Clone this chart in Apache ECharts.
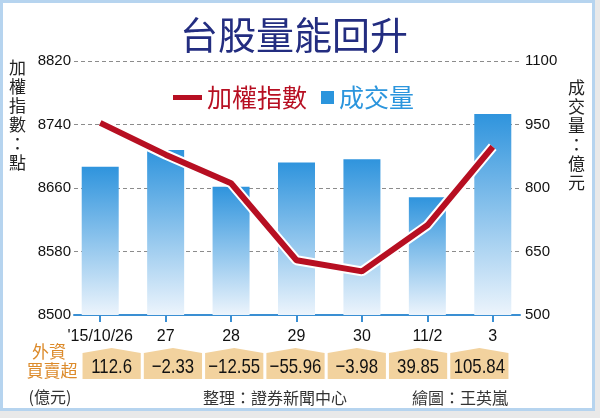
<!DOCTYPE html>
<html>
<head>
<meta charset="utf-8">
<script src="https://cdn.jsdelivr.net/npm/echarts@6/dist/echarts.min.js"></script>
<style>
html,body{margin:0;padding:0;background:#e9e9e9;width:600px;height:418px;overflow:hidden;}
#frame{position:absolute;left:0;top:0;width:589px;height:405px;border:3px solid #b6d4ef;background:#fff;}
#chart{position:absolute;left:0;top:0;width:600px;height:418px;}
</style>
</head>
<body>
<div id="frame"></div>
<div id="chart"></div>
<script>
const categories = ["'15/10/26", "27", "28", "29", "30", "11/2", "3"];
const taiex = [8742, 8702, 8666, 8569, 8555, 8613, 8712];
const volume = [850, 890, 803, 860, 868, 778, 975];
const foreignNet = [112.6, -2.33, -12.55, -55.96, -3.98, 39.85, 105.84];
const leftTicks = { min: 8500, max: 8820, interval: 80 };
const rightTicks = { min: 500, max: 1100, interval: 150 };

const NUM_FONT = '"Liberation Sans", Arial, sans-serif';
const CJK_FONT = '"Noto Sans CJK TC", "Noto Sans CJK SC", sans-serif';
const RED = '#b70f22';
const BLUE = '#2b95dd';
const AXIS_BLUE = '#3a8fd3';

function fmt(v) {
  return String(v).replace('-', '\u2212');
}

const chart = echarts.init(document.getElementById('chart'), null, { renderer: 'canvas' });

const option = {
  backgroundColor: 'transparent',
  animation: false,
  legend: [
    {
      data: ['加權指數'], left: 168, top: 80, icon: 'rect', itemWidth: 29, itemHeight: 5,
      textStyle: { fontFamily: CJK_FONT, fontSize: 25, color: RED }
    },
    {
      data: [{ name: '成交量', itemStyle: { color: BLUE } }], left: 316, top: 80, icon: 'rect', itemWidth: 13, itemHeight: 13,
      textStyle: { fontFamily: CJK_FONT, fontSize: 25, color: BLUE }
    }
  ],
  grid: [
    { left: 74, width: 446, top: 61, height: 254 },
    { left: 67.5, width: 458, top: 61, height: 254 },
    { left: 81, width: 429, top: 348, height: 31 }
  ],
  xAxis: [
    {
      gridIndex: 0, type: 'category', data: categories,
      axisLine: { show: true, lineStyle: { color: AXIS_BLUE, width: 2 } },
      axisTick: { show: false }, axisLabel: { show: false }, splitLine: { show: false }
    },
    {
      gridIndex: 1, type: 'category', data: categories,
      axisLine: { show: false },
      axisTick: { show: true, alignWithLabel: true, interval: 0, length: 7, lineStyle: { color: AXIS_BLUE, width: 2 } },
      axisLabel: { interval: 0, margin: 14, fontFamily: NUM_FONT, fontSize: 16, color: '#111' }
    },
    { gridIndex: 2, type: 'category', data: categories, show: false }
  ],
  yAxis: [
    {
      gridIndex: 0, type: 'value', position: 'left',
      min: leftTicks.min, max: leftTicks.max, interval: leftTicks.interval,
      axisLine: { show: false }, axisTick: { show: false },
      axisLabel: { margin: 3, fontFamily: NUM_FONT, fontSize: 15, color: '#111', formatter: v => String(v) },
      splitLine: { show: true, lineStyle: { color: '#8c8c8c', type: [4, 3], width: 1 } }
    },
    {
      gridIndex: 0, type: 'value', position: 'right',
      min: rightTicks.min, max: rightTicks.max, interval: rightTicks.interval,
      axisLine: { show: false }, axisTick: { show: false },
      axisLabel: { margin: 5, fontFamily: NUM_FONT, fontSize: 15, color: '#111', formatter: v => String(v) },
      splitLine: { show: false }
    },
    { gridIndex: 1, type: 'value', min: leftTicks.min, max: leftTicks.max, show: false },
    { gridIndex: 1, type: 'value', min: rightTicks.min, max: rightTicks.max, show: false },
    { gridIndex: 2, type: 'value', min: 0, max: 1, show: false }
  ],
  series: [
    {
      name: '成交量', type: 'bar', xAxisIndex: 1, yAxisIndex: 3, data: volume, barWidth: 37,
      itemStyle: {
        color: new echarts.graphic.LinearGradient(0, 0, 0, 1, [
          { offset: 0, color: '#2f94dd' },
          { offset: 1, color: '#ecf4fc' }
        ])
      }
    },
    {
      name: 'outline', type: 'line', xAxisIndex: 1, yAxisIndex: 2, data: taiex,
      symbol: 'none', lineStyle: { color: '#ffffff', width: 10 }, silent: true
    },
    {
      name: '加權指數', type: 'line', xAxisIndex: 1, yAxisIndex: 2, data: taiex,
      symbol: 'none', lineStyle: { color: RED, width: 6 }, itemStyle: { color: RED }
    },
    {
      name: '外資買賣超', type: 'custom', xAxisIndex: 2, yAxisIndex: 4,
      data: foreignNet.map((v, i) => [i, v]),
      renderItem: function (params, api) {
        const i = api.value(0);
        const top = api.coord([i, 1]);
        const bot = api.coord([i, 0]);
        const bw = api.size([1, 0])[0] * 0.95;
        const cx = top[0];
        const x0 = cx - bw / 2, x1 = cx + bw / 2;
        const sh = top[1] + 5;
        return {
          type: 'group',
          children: [
            {
              type: 'polygon',
              shape: { points: [[x0, sh], [cx, top[1]], [x1, sh], [x1, bot[1]], [x0, bot[1]]] },
              style: { fill: '#f2d29e' }
            },
            {
              type: 'text',
              x: cx, y: (sh + bot[1]) / 2 + 1, scaleX: 0.8,
              style: {
                text: fmt(api.value(1)), x: 0, y: 0,
                align: 'center', verticalAlign: 'middle',
                font: '21px "Liberation Sans", Arial, sans-serif',
                fill: '#111'
              }
            }
          ]
        };
      }
    }
  ],
  graphic: [
    {
      type: 'text', left: 180, top: 16,
      style: { text: '台股量能回升', font: '38px ' + CJK_FONT, fill: '#232d80' }
    },
    {
      type: 'text', left: 9, top: 58,
      style: { text: '加\n權\n指\n數\n：\n點', font: '17px ' + CJK_FONT, fill: '#222', lineHeight: 19 }
    },
    {
      type: 'text', left: 568, top: 78,
      style: { text: '成\n交\n量\n：\n億\n元', font: '17px ' + CJK_FONT, fill: '#222', lineHeight: 19 }
    },
    {
      type: 'text', x: 49, y: 352,
      style: { text: '外資', font: '17px ' + CJK_FONT, fill: '#dc8a2a', align: 'center', verticalAlign: 'middle' }
    },
    {
      type: 'text', x: 52, y: 371,
      style: { text: '買賣超', font: '17px ' + CJK_FONT, fill: '#dc8a2a', align: 'center', verticalAlign: 'middle' }
    },
    {
      type: 'text', x: 50, y: 397,
      style: { text: '(億元)', font: '16px ' + CJK_FONT, fill: '#333', align: 'center', verticalAlign: 'middle' }
    },
    {
      type: 'text', x: 203, y: 398,
      style: { text: '整理：證券新聞中心', font: '16px ' + CJK_FONT, fill: '#333', verticalAlign: 'middle' }
    },
    {
      type: 'text', x: 412, y: 398,
      style: { text: '繪圖：王英嵐', font: '16px ' + CJK_FONT, fill: '#333', verticalAlign: 'middle' }
    }
  ]
};

chart.setOption(option);
</script>
</body>
</html>
